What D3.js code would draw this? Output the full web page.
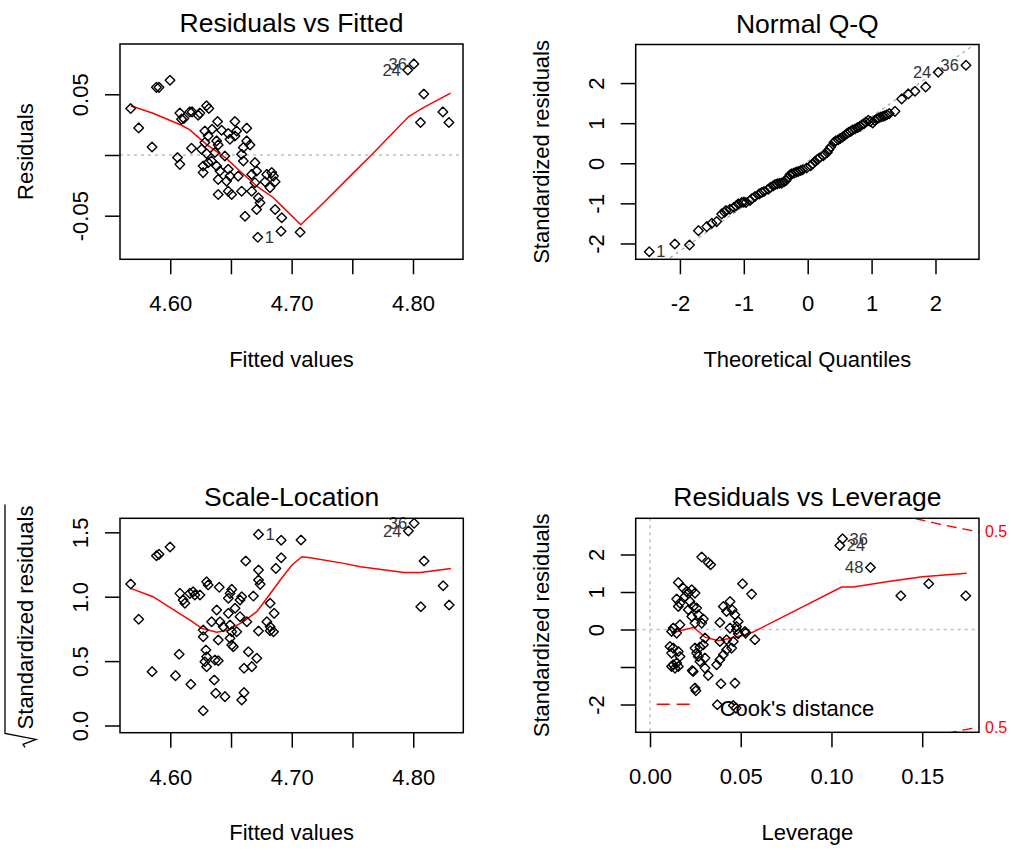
<!DOCTYPE html>
<html>
<head>
<meta charset="utf-8">
<script src="https://cdn.jsdelivr.net/npm/d3@7"></script>
<style>
  body { margin: 0; background: #fff; }
</style>
</head>
<body>
<svg id="chart" width="1011" height="850"></svg>
<script>
"use strict";

// ---- data ----
var fittedTicks = [4.60, 4.65, 4.70, 4.75, 4.80];
var fittedTickLabels = ["4.60", "", "4.70", "", "4.80"];
var residTicks = [-0.05, 0, 0.05];
var residTickLabels = ["-0.05", "", "0.05"];
var qqTicks = [-2, -1, 0, 1, 2];
var qqTickLabels = ["-2", "-1", "0", "1", "2"];
var sqrtTicks = [0, 0.5, 1, 1.5];
var sqrtTickLabels = ["0.0", "0.5", "1.0", "1.5"];
var levTicks = [0, 0.05, 0.10, 0.15];
var levTickLabels = ["0.00", "0.05", "0.10", "0.15"];
var stdTicks = [-2, -1, 0, 1, 2];
var stdTickLabels = ["-2", "", "0", "1", "2"];

// Residuals vs Fitted: [fitted, residual]
var fitResid = [
  [4.5674, 0.0383], [4.5740, 0.0223], [4.5850, 0.0066], [4.5886, 0.0557], [4.5907, 0.0557], [4.5998, 0.0615],
  [4.6060, -0.0021], [4.6079, -0.0077], [4.6175, 0.0055], [4.6079, 0.0345], [4.6093, 0.0295], [4.6112, 0.0301],
  [4.6161, 0.0355], [4.6180, 0.0355], [4.6230, 0.0328], [4.6244, 0.0345], [4.6299, 0.0405], [4.6318, 0.0383],
  [4.6390, 0.0276], [4.6533, 0.0276], [4.6285, 0.0198], [4.6345, 0.0212], [4.6423, 0.0204], [4.6478, 0.0177],
  [4.6547, 0.0198], [4.6630, 0.0221], [4.6312, 0.0157], [4.6382, 0.0116], [4.6285, 0.0102], [4.6395, 0.0083],
  [4.6492, 0.0130], [4.6533, 0.0157], [4.6630, 0.0116], [4.6602, 0.0061], [4.6657, 0.0083], [4.6258, 0.0047],
  [4.6299, 0.0012], [4.6368, 0.0020], [4.6450, -0.0008], [4.6340, -0.0050], [4.6271, -0.0091], [4.6312, -0.0063],
  [4.6382, -0.0091], [4.6588, 0.0006], [4.6602, -0.0050], [4.6698, -0.0063], [4.6271, -0.0145], [4.6409, -0.0132],
  [4.6478, -0.0118], [4.6395, -0.0201], [4.6464, -0.0215], [4.6492, -0.0174], [4.6560, -0.0174], [4.6671, -0.0160],
  [4.6712, -0.0132], [4.6795, -0.0160], [4.6836, -0.0145], [4.6850, -0.0174], [4.6864, -0.0220], [4.6781, -0.0220],
  [4.6698, -0.0228], [4.6395, -0.0325], [4.6478, -0.0298], [4.6506, -0.0325], [4.6588, -0.0298], [4.6671, -0.0298],
  [4.6726, -0.0352], [4.6740, -0.0393], [4.6712, -0.0449], [4.6616, -0.0504], [4.6822, -0.0269], [4.6864, -0.0449],
  [4.6919, -0.0517], [4.6913, -0.0628], [4.6721, -0.0678], [4.7070, -0.0636],
  [4.7957, 0.0700], [4.8007, 0.0750], [4.8089, 0.0502], [4.8062, 0.0268], [4.8246, 0.0355], [4.8296, 0.0268]
];
var fitResidSmooth = [
  [4.5674, 0.0405], [4.5858, 0.0344], [4.6093, 0.0245], [4.6161, 0.0207], [4.6299, 0.0088], [4.6464, -0.0030],
  [4.6574, -0.0132], [4.6712, -0.0256], [4.6850, -0.0352], [4.6919, -0.0421], [4.7076, -0.0575], [4.7263, -0.0393],
  [4.7511, -0.0145], [4.7649, -0.0008], [4.7965, 0.0317], [4.8089, 0.0392], [4.8310, 0.0510]
];
var fitResidIds = [
  { id: "1", x: 4.6721, y: -0.0678, side: "right" },
  { id: "24", x: 4.7957, y: 0.0700, side: "left" },
  { id: "36", x: 4.8007, y: 0.0750, side: "left" }
];

// Normal Q-Q: [theoretical quantile, standardized residual]
var qqPoints = [
  [-2.48, -2.205], [-2.08, -2.013], [-1.85, -2.038], [-1.71, -1.680], [-1.58, -1.580], [-1.50, -1.495], [-1.425, -1.455],
  [-1.346, -1.263], [-1.30, -1.22], [-1.279, -1.180], [-1.216, -1.145], [-1.154, -1.095], [-1.12, -1.06], [-1.086, -1.013],
  [-1.033, -0.980], [-1.00, -0.97], [-0.966, -0.980], [-0.903, -0.930], [-0.87, -0.88], [-0.825, -0.830], [-0.758, -0.763],
  [-0.72, -0.73], [-0.684, -0.705], [-0.617, -0.645], [-0.58, -0.60], [-0.539, -0.563], [-0.51, -0.53], [-0.476, -0.513],
  [-0.44, -0.50], [-0.407, -0.495], [-0.37, -0.46], [-0.340, -0.430], [-0.31, -0.36], [-0.277, -0.288], [-0.25, -0.26],
  [-0.215, -0.245], [-0.18, -0.22], [-0.147, -0.205], [-0.11, -0.18], [-0.079, -0.163], [-0.016, -0.120], [0.047, -0.063],
  [0.08, -0.01], [0.114, 0.045], [0.15, 0.09], [0.181, 0.130], [0.244, 0.188], [0.27, 0.23], [0.306, 0.270], [0.33, 0.34],
  [0.360, 0.405], [0.411, 0.520], [0.44, 0.56], [0.478, 0.588], [0.51, 0.62], [0.547, 0.655], [0.58, 0.70], [0.610, 0.738],
  [0.64, 0.77], [0.673, 0.795], [0.70, 0.83], [0.740, 0.855], [0.78, 0.89], [0.818, 0.920], [0.85, 0.96], [0.881, 0.988],
  [0.91, 1.03], [0.948, 1.070], [0.98, 1.04], [1.017, 1.005], [1.05, 1.07], [1.079, 1.105], [1.11, 1.13], [1.142, 1.155],
  [1.18, 1.17], [1.209, 1.188], [1.24, 1.21], [1.277, 1.238], [1.366, 1.295],
  [1.471, 1.605], [1.574, 1.730], [1.679, 1.795], [1.846, 1.905], [2.043, 2.270], [2.477, 2.445]
];
var qqLineSlope = 1.117;
var qqLineIntercept = 0.047;
var qqIds = [
  { id: "1", x: -2.48, y: -2.205, side: "right" },
  { id: "24", x: 2.043, y: 2.270, side: "left" },
  { id: "36", x: 2.477, y: 2.445, side: "left" }
];

// Scale-Location: [fitted, sqrt(|standardized residual|)]
var scaleLoc = [
  [4.5674, 1.099], [4.5740, 0.825], [4.5850, 0.418], [4.5886, 1.318], [4.5907, 1.329], [4.5998, 1.386], [4.6043, 0.387],
  [4.6073, 0.553], [4.6169, 0.320], [4.6079, 1.026], [4.6106, 0.974], [4.6120, 0.949], [4.6161, 1.026], [4.6188, 1.039],
  [4.6202, 1.013], [4.6244, 1.013], [4.6299, 1.116], [4.6312, 1.091], [4.6403, 1.073], [4.6506, 1.057], [4.6492, 1.026],
  [4.6478, 0.988], [4.6574, 0.974], [4.6588, 1.000], [4.6684, 1.005], [4.6382, 0.897], [4.6478, 0.871], [4.6533, 0.910],
  [4.6574, 0.845], [4.6630, 0.806], [4.6340, 0.806], [4.6409, 0.806], [4.6436, 0.767], [4.6492, 0.780], [4.6506, 0.728],
  [4.6547, 0.728], [4.6271, 0.741], [4.6271, 0.689], [4.6395, 0.664], [4.6492, 0.677], [4.6506, 0.625], [4.6519, 0.612],
  [4.6822, 0.949], [4.6855, 0.871], [4.6795, 0.806], [4.6822, 0.767], [4.6726, 0.734], [4.6822, 0.736], [4.6850, 0.728],
  [4.6293, 0.586], [4.6299, 0.534], [4.6285, 0.495], [4.6299, 0.457], [4.6368, 0.509], [4.6395, 0.503], [4.6643, 0.573],
  [4.6712, 0.522], [4.6671, 0.457], [4.6607, 0.444], [4.6362, 0.353], [4.6374, 0.250], [4.6450, 0.224], [4.6607, 0.255],
  [4.6588, 0.198], [4.6271, 0.115], [4.6726, 1.484], [4.6913, 1.438], [4.7076, 1.440], [4.6913, 1.303], [4.6869, 1.220],
  [4.6621, 1.277], [4.6726, 1.207], [4.6726, 1.130], [4.6740, 1.096],
  [4.7960, 1.510], [4.8007, 1.570], [4.8089, 1.277], [4.8062, 0.922], [4.8246, 1.085], [4.8296, 0.936]
];
var scaleLocSmooth = [
  [4.5674, 1.065], [4.5858, 1.000], [4.6051, 0.884], [4.6175, 0.811], [4.6258, 0.755], [4.6382, 0.724], [4.6478, 0.741],
  [4.6602, 0.806], [4.6712, 0.884], [4.6795, 0.988], [4.6905, 1.130], [4.7002, 1.246], [4.7084, 1.311], [4.7153, 1.303],
  [4.7428, 1.259], [4.7566, 1.233], [4.7924, 1.189], [4.8062, 1.189], [4.8310, 1.220]
];
var scaleLocIds = [
  { id: "1", x: 4.6726, y: 1.484, side: "right" },
  { id: "24", x: 4.7960, y: 1.510, side: "left" },
  { id: "36", x: 4.8007, y: 1.570, side: "left" }
];

// Residuals vs Leverage: [leverage, standardized residual]
var levPoints = [
  [0.1061, 2.419], [0.1046, 2.240], [0.1215, 1.653], [0.1382, 0.899], [0.1536, 1.219], [0.1740, 0.899],
  [0.0285, 1.931], [0.0321, 1.787], [0.0334, 1.725], [0.0510, 1.219], [0.0560, 0.944], [0.0578, -0.275],
  [0.0527, -0.096], [0.0468, -1.429], [0.0391, -1.448], [0.0371, -2.008], [0.0459, -2.027], [0.0474, -2.096],
  [0.0248, -1.563], [0.0253, -1.635], [0.0233, -1.093], [0.0321, -1.227], [0.0156, 1.253], [0.0183, 1.104],
  [0.0202, 1.013], [0.0211, 0.971], [0.0230, 1.059], [0.0248, 0.971], [0.0193, 0.880], [0.0147, 0.811],
  [0.0165, 0.704], [0.0156, 0.613], [0.0220, 0.747], [0.0239, 0.613], [0.0257, 0.571], [0.0211, 0.525],
  [0.0441, 0.747], [0.0404, 0.613], [0.0453, 0.525], [0.0468, 0.392], [0.0422, 0.480], [0.0230, 0.347],
  [0.0266, 0.392], [0.0294, 0.277], [0.0285, 0.171], [0.0248, 0.171], [0.0385, 0.187], [0.0486, 0.213],
  [0.0477, 0.080], [0.0441, 0.037], [0.0477, -0.008], [0.0523, -0.053], [0.0486, -0.115], [0.0128, 0.037],
  [0.0165, 0.125], [0.0119, -0.053], [0.0147, -0.096], [0.0303, -0.229], [0.0294, -0.408], [0.0275, -0.469],
  [0.0248, -0.496], [0.0385, -0.320], [0.0422, -0.275], [0.0459, -0.320], [0.0450, -0.496], [0.0422, -0.541],
  [0.0404, -0.675], [0.0385, -0.808], [0.0367, -0.941], [0.0110, -0.453], [0.0128, -0.496], [0.0156, -0.587],
  [0.0119, -0.629], [0.0165, -0.720], [0.0257, -0.629], [0.0266, -0.720], [0.0303, -0.763], [0.0275, -0.853],
  [0.0128, -0.941], [0.0147, -0.896], [0.0156, -0.987], [0.0138, -1.029], [0.0119, -0.987], [0.0238, -1.120],
  [0.0303, -1.029]
];
var levSmooth = [
  [0.0128, -0.080], [0.0242, 0.059], [0.0259, -0.021], [0.0303, -0.203], [0.0376, -0.301], [0.0450, -0.229],
  [0.0523, -0.141], [0.0565, -0.075], [0.1056, 1.131], [0.1120, 1.131], [0.1313, 1.280], [0.1501, 1.405], [0.1745, 1.499]
];
var levIds = [
  { id: "36", x: 0.1061, y: 2.419, side: "right" },
  { id: "24", x: 0.1046, y: 2.240, side: "right" },
  { id: "48", x: 0.1215, y: 1.653, side: "left" }
];
var cookLevels = [0.5];
var modelParams = 3;

// ---- drawing ----
var FONT = "'Liberation Sans', Arial, Helvetica, sans-serif";
var MARK = "M0,-4.8L4.8,0L0,4.8L-4.8,0Z";
var svg = d3.select("#chart").attr("font-family", FONT);
svg.append("rect").attr("width", 1011).attr("height", 850).attr("fill", "#fff");

var panels = [
  { box: [120, 44, 463, 259.3], xDomain: [4.5586, 4.8412], yDomain: [-0.0859, 0.0914],
    title: "Residuals vs Fitted", xTitle: "Fitted values", yTitle: "Residuals",
    xTicks: fittedTicks, xLabels: fittedTickLabels, yTicks: residTicks, yLabels: residTickLabels,
    points: fitResid, smooth: fitResidSmooth, ids: fitResidIds, hline: 0 },
  { box: [635.7, 44.5, 979, 259.3], xDomain: [-2.692, 2.681], yDomain: [-2.395, 2.962],
    title: "Normal Q-Q", xTitle: "Theoretical Quantiles", yTitle: "Standardized residuals",
    xTicks: qqTicks, xLabels: qqTickLabels, yTicks: qqTicks, yLabels: qqTickLabels,
    points: qqPoints, ids: qqIds, refLine: { slope: qqLineSlope, intercept: qqLineIntercept } },
  { box: [120, 518.3, 463.3, 732.7], xDomain: [4.5586, 4.8412], yDomain: [-0.056, 1.609],
    title: "Scale-Location", xTitle: "Fitted values", yTitle: "Standardized residuals", sqrtTitle: true,
    xTicks: fittedTicks, xLabels: fittedTickLabels, yTicks: sqrtTicks, yLabels: sqrtTickLabels,
    points: scaleLoc, smooth: scaleLocSmooth, ids: scaleLocIds },
  { box: [635.7, 518.3, 979, 732.3], xDomain: [-0.00788, 0.1813], yDomain: [-2.741, 2.965],
    title: "Residuals vs Leverage", xTitle: "Leverage", yTitle: "Standardized residuals",
    xTicks: levTicks, xLabels: levTickLabels, yTicks: stdTicks, yLabels: stdTickLabels,
    points: levPoints, smooth: levSmooth, ids: levIds, hline: 0, vline: 0, cook: true }
];

panels.forEach(drawPanel);

function drawPanel(p, k) {
  var L = p.box[0], T = p.box[1], R = p.box[2], B = p.box[3];
  var x = d3.scaleLinear().domain(p.xDomain).range([L, R]);
  var y = d3.scaleLinear().domain(p.yDomain).range([B, T]);
  var line = d3.line().x(function (d) { return x(d[0]); }).y(function (d) { return y(d[1]); });
  var g = svg.append("g");

  svg.append("clipPath").attr("id", "clip" + k)
    .append("rect").attr("x", L).attr("y", T).attr("width", R - L).attr("height", B - T);
  var plot = g.append("g").attr("clip-path", "url(#clip" + k + ")");

  // dotted gray reference lines
  if (p.hline != null) {
    plot.append("line").attr("x1", L).attr("x2", R).attr("y1", y(p.hline)).attr("y2", y(p.hline))
      .attr("stroke", "#bebebe").attr("stroke-width", 1.5).attr("stroke-dasharray", "3,4");
  }
  if (p.vline != null) {
    plot.append("line").attr("y1", T).attr("y2", B).attr("x1", x(p.vline)).attr("x2", x(p.vline))
      .attr("stroke", "#bebebe").attr("stroke-width", 1.5).attr("stroke-dasharray", "3,4");
  }
  if (p.refLine) {
    var x0 = p.xDomain[0], x1 = p.xDomain[1];
    plot.append("line")
      .attr("x1", x(x0)).attr("y1", y(p.refLine.intercept + p.refLine.slope * x0))
      .attr("x2", x(x1)).attr("y2", y(p.refLine.intercept + p.refLine.slope * x1))
      .attr("stroke", "#a8a8a8").attr("stroke-width", 1.3).attr("stroke-dasharray", "3,4");
  }

  // points
  g.append("g").selectAll("path")
    .data(p.points)
    .join("path")
    .attr("d", MARK)
    .attr("transform", function (d) { return "translate(" + x(d[0]) + "," + y(d[1]) + ")"; })
    .attr("fill", "none")
    .attr("stroke", "#000")
    .attr("stroke-width", 1.4)
    .attr("stroke-linejoin", "round");

  // smoother
  if (p.smooth) {
    plot.append("path").datum(p.smooth).attr("d", line)
      .attr("fill", "none").attr("stroke", "#ff0000").attr("stroke-width", 1.5);
  }

  // Cook's distance contours
  if (p.cook) {
    var hs = d3.range(0.002, p.xDomain[1] + 0.002, 0.001);
    var hMax = p.xDomain[1];
    cookLevels.forEach(function (lv) {
      [1, -1].forEach(function (sg) {
        var pts = hs.map(function (h) { return [h, sg * Math.sqrt(lv * modelParams * (1 - h) / h)]; });
        plot.append("path").datum(pts).attr("d", line)
          .attr("fill", "none").attr("stroke", "#ff0000").attr("stroke-width", 1.4)
          .attr("stroke-dasharray", "10,6");
        g.append("text")
          .attr("x", R + 6)
          .attr("y", y(sg * Math.sqrt(lv * modelParams * (1 - hMax) / hMax)))
          .attr("dy", "0.35em")
          .attr("font-size", 16)
          .attr("fill", "#ff0000")
          .text(String(lv));
      });
    });
    g.append("line").attr("x1", L + 21).attr("x2", L + 58).attr("y1", B - 28).attr("y2", B - 28)
      .attr("stroke", "#ff0000").attr("stroke-width", 1.4).attr("stroke-dasharray", "13,7");
    g.append("text").attr("x", L + 84).attr("y", B - 16)
      .attr("font-size", 22).attr("fill", "#000").text("Cook's distance");
  }

  // point ids
  g.append("g").selectAll("text")
    .data(p.ids)
    .join("text")
    .attr("x", function (d) { return x(d.x) + (d.side === "right" ? 7 : -7); })
    .attr("y", function (d) { return y(d.y); })
    .attr("dy", "0.35em")
    .attr("text-anchor", function (d) { return d.side === "right" ? "start" : "end"; })
    .attr("font-size", 16.5)
    .attr("fill", "#333")
    .text(function (d) { return d.id; });

  // frame
  g.append("rect").attr("x", L).attr("y", T).attr("width", R - L).attr("height", B - T)
    .attr("fill", "none").attr("stroke", "#000").attr("stroke-width", 1.5);

  // axes
  var xa = g.append("g").attr("transform", "translate(0," + B + ")")
    .call(d3.axisBottom(x).tickValues(p.xTicks).tickSize(15)
      .tickFormat(function (d, i) { return p.xLabels[i]; }));
  xa.select(".domain").remove();
  xa.attr("font-size", 22).attr("font-family", FONT);
  xa.selectAll(".tick line").attr("stroke", "#000").attr("stroke-width", 1.5);
  xa.selectAll(".tick text").attr("y", 52).attr("dy", null).attr("fill", "#000");

  var ya = g.append("g").attr("transform", "translate(" + L + ",0)")
    .call(d3.axisLeft(y).tickValues(p.yTicks).tickSize(15)
      .tickFormat(function (d, i) { return p.yLabels[i]; }));
  ya.select(".domain").remove();
  ya.attr("font-size", 22).attr("font-family", FONT);
  ya.selectAll(".tick line").attr("stroke", "#000").attr("stroke-width", 1.5);
  ya.selectAll(".tick text")
    .attr("x", 0).attr("dy", null)
    .attr("transform", "translate(-32,0) rotate(-90)")
    .attr("text-anchor", "middle")
    .attr("fill", "#000");

  // titles
  g.append("text").attr("x", (L + R) / 2).attr("y", T - 12)
    .attr("text-anchor", "middle").attr("font-size", 26.5).attr("fill", "#000").text(p.title);
  g.append("text").attr("x", (L + R) / 2).attr("y", B + 107.4)
    .attr("text-anchor", "middle").attr("font-size", 22).attr("fill", "#000").text(p.xTitle);

  var cy = (T + B) / 2 - (p.sqrtTitle ? 8 : 0);
  var yt = g.append("g").attr("transform", "translate(" + (L - 87) + "," + cy + ") rotate(-90)");
  var txt = yt.append("text").attr("text-anchor", "middle").attr("font-size", 22)
    .attr("fill", "#000").text(p.yTitle);
  if (p.sqrtTitle) {
    var w = txt.node().getComputedTextLength();
    var r0 = -w / 2 - 15;
    yt.append("path")
      .attr("d", "M" + (r0 - 3) + ",-8L" + r0 + ",-10L" + (r0 + 5) + ",3L" + (r0 + 11) + ",-28L" + (w / 2 + 1) + ",-28")
      .attr("fill", "none").attr("stroke", "#000").attr("stroke-width", 1.3);
  }
}
</script>
</body>
</html>
